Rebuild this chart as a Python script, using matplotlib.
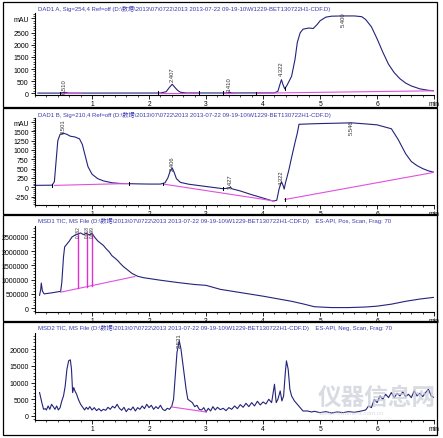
import numpy as np
import matplotlib
matplotlib.use("Agg")
from matplotlib import pyplot as plt
from matplotlib.patches import Rectangle
from matplotlib.ticker import MultipleLocator

plt.rcParams['font.family'] = ['Liberation Sans', 'Noto Sans CJK SC']

path = r"(D:\数据\2013\07\0722\2013 2013-07-22 09-19-10\W1229-BET130722H1-CDF.D)"
titles = [
    "DAD1 A, Sig=254,4 Ref=off " + path,
    "DAD1 B, Sig=210,4 Ref=off " + path,
    "MSD1 TIC, MS File " + path + "    ES-API, Pos, Scan, Frag: 70",
    "MSD2 TIC, MS File " + path + "    ES-API, Neg, Scan, Frag: 70",
]

# panel 1 : DAD1 A 254 nm
t1 = [0.05, 0.45, 0.5, 0.51, 0.55, 0.6, 2.2, 2.3, 2.36, 2.407, 2.45, 2.5, 2.55, 2.65,
      3.38, 3.41, 3.45, 4.2, 4.26, 4.3, 4.322, 4.35, 4.38, 4.42, 4.5, 4.56, 4.6, 4.65,
      4.7, 4.8, 4.88, 4.95, 5.0, 5.1, 5.2, 5.4, 5.6, 5.73, 5.8, 5.9, 6.0, 6.1, 6.2,
      6.3, 6.4, 6.5, 6.6, 6.75, 6.9, 7.0]
y1 = [5, 5, 30, 45, 20, 5, 8, 60, 250, 370, 250, 120, 40, 10,
      10, 40, 10, 15, 80, 400, 560, 350, 180, 330, 700, 1400, 2100, 2500,
      2650, 2700, 2680, 2850, 3000, 3150, 3190, 3200, 3200, 3170, 3050, 2750, 2250, 1700, 1200,
      850, 600, 420, 300, 180, 120, 100]
base1 = [([0.44, 0.8], [0, 0]), ([2.15, 2.88], [5, 5]), ([3.3, 3.5], [5, 5]),
         ([3.87, 7.0], [0, 100])]
# retention time, label centre height
peaks1 = [(0.510, 300), (2.407, 820), (3.410, 410), (4.322, 1070), (5.400, 3070)]
marks1 = [(0.44, 0), (2.15, 5), (2.88, 5), (3.3, 5), (3.87, 0), (4.38, 180)]

# panel 2 : DAD1 B 210 nm
t2 = [0.0, 0.3, 0.34, 0.37, 0.4, 0.44, 0.501, 0.56, 0.62, 0.7, 0.78, 0.83, 0.88, 0.93,
      1.0, 1.1, 1.2, 1.35, 1.5, 1.65, 1.8, 2.0, 2.2, 2.28, 2.33, 2.37, 2.406, 2.44, 2.48,
      2.55, 2.7, 3.0, 3.3, 3.41, 3.427, 3.45, 3.6, 3.8, 4.0, 4.17, 4.24, 4.28, 4.322,
      4.35, 4.37, 4.39, 4.45, 4.5, 4.56, 4.6, 4.63, 4.8, 5.0, 5.3, 5.546, 5.8, 6.0,
      6.25, 6.37, 6.5, 6.6, 6.7, 6.8, 6.9, 7.0]
y2 = [50, 55, 150, 700, 1250, 1420, 1450, 1420, 1370, 1350, 1300, 1150, 850, 550,
      350, 230, 170, 120, 100, 95, 90, 85, 85, 120, 250, 430, 520, 400, 230,
      130, 80, 20, -40, -20, 10, -40, -100, -200, -290, -370, -350, -50, 150,
      50, -50, 100, 450, 800, 1200, 1450, 1690, 1700, 1710, 1720, 1730, 1700, 1675,
      1570, 1280, 900, 690, 580, 500, 440, 400]
base2 = [([0.34, 1.65], [50, 100]), ([2.25, 4.2], [85, -370]), ([4.38, 7.0], [-330, 400])]
peaks2 = [(0.501, 1650), (2.406, 665), (3.427, 186), (4.322, 290), (5.546, 1620)]
marks2 = [(0.3, 55), (1.65, 95), (2.25, 85), (3.3, -40), (4.38, -330)]

# panel 3 : MSD1 TIC positive
t3 = [0.08, 0.1, 0.11, 0.13, 0.16, 0.3, 0.45, 0.47, 0.5, 0.52, 0.56, 0.6, 0.65, 0.7,
      0.75, 0.8, 0.85, 0.9, 0.95, 1.0, 1.05, 1.1, 1.15, 1.2, 1.25, 1.3, 1.35, 1.4,
      1.45, 1.5, 1.55, 1.6, 1.7, 1.8, 1.9, 2.0, 2.2, 2.5, 2.8, 3.0, 3.25, 3.5, 3.75,
      4.0, 4.25, 4.5, 4.7, 4.9, 5.2, 5.5, 5.8, 6.0, 6.25, 6.5, 6.75, 7.0]
y3 = [450000, 650000, 880000, 600000, 500000, 540000, 590000, 900000, 1800000, 2150000,
      2250000, 2350000, 2500000, 2560000, 2600000, 2640000, 2580000, 2630000, 2570000,
      2620000, 2480000, 2360000, 2280000, 2200000, 2080000, 1980000, 1840000, 1760000,
      1670000, 1560000, 1460000, 1380000, 1220000, 1120000, 1070000, 1040000, 980000,
      900000, 830000, 800000, 660000, 580000, 500000, 420000, 330000, 240000, 150000,
      50000, 20000, 20000, 40000, 70000, 140000, 240000, 320000, 380000]
base3 = [([0.45, 1.75], [560000, 1110000])]
cuts3 = [0.76, 0.92, 1.0]
labels3 = ["0.762", "0.918", "0.999"]

# panel 4 : MSD2 TIC negative
t4 = [0.08, 0.12, 0.15, 0.18, 0.2, 0.23, 0.26, 0.29, 0.32, 0.35, 0.38, 0.41, 0.44, 0.47,
      0.5, 0.53, 0.56, 0.59, 0.62, 0.64, 0.66, 0.68, 0.7, 0.73, 0.76, 0.8, 0.84, 0.87,
      0.9, 0.93, 0.96, 1.0, 1.04, 1.08, 1.12, 1.16, 1.2, 1.24, 1.28, 1.32, 1.36, 1.4,
      1.44, 1.48, 1.52, 1.56, 1.6, 1.64, 1.68, 1.72, 1.76, 1.8, 1.84, 1.88, 1.92, 1.96,
      2.0, 2.04, 2.08, 2.12, 2.16, 2.2, 2.24, 2.28, 2.32, 2.36, 2.4, 2.43, 2.46, 2.49,
      2.53, 2.56, 2.59, 2.62, 2.65, 2.68, 2.72, 2.76, 2.8, 2.84, 2.88, 2.92, 2.96, 3.0,
      3.04, 3.08, 3.12, 3.16, 3.2, 3.25, 3.3, 3.35, 3.4, 3.45, 3.5, 3.55, 3.6, 3.65,
      3.7, 3.75, 3.8, 3.85, 3.9, 3.95, 4.0, 4.05, 4.1, 4.15, 4.2, 4.23, 4.26, 4.3,
      4.33, 4.36, 4.39, 4.41, 4.44, 4.47, 4.5, 4.55, 4.6, 4.65, 4.7, 4.78, 4.85, 4.9,
      5.0, 5.1, 5.2, 5.3, 5.4, 5.5, 5.6, 5.7, 5.8, 5.85, 5.9, 5.95, 6.0, 6.05, 6.1,
      6.15, 6.2, 6.25, 6.3, 6.35, 6.4, 6.45, 6.5, 6.55, 6.6, 6.65, 6.7, 6.75, 6.8,
      6.85, 6.9, 6.95, 7.0]
y4 = [7000, 4000, 2000, 2200, 1800, 3000, 2000, 3500, 2800, 2000, 3000, 1800, 2500, 4500,
      6000, 9000, 14000, 16500, 16800, 14000, 7000, 8500, 7500, 6500, 5000, 3500, 2500, 1800,
      2600, 2000, 2800, 1800, 2500, 1600, 2200, 1500, 2000, 1700, 2600, 2000, 2900, 2400,
      3500, 2300, 1700, 2600, 1300, 2200, 1800, 2700, 1500, 2500, 2000, 3000, 2200, 3500,
      2500, 3200, 2000, 2800, 2200, 3200, 2000, 1600, 2300, 2000, 3000, 5000, 12000, 19000,
      22500, 20000, 16000, 12000, 8000, 5000, 4500, 4000, 2800, 3200, 2000, 1800, 2500, 1200,
      2300, 1500, 2800, 1800, 2600, 1900, 2300, 1600, 2500, 2000, 3000, 2200, 3400, 2600,
      3800, 2800, 4000, 3000, 4400, 3300, 4200, 3600, 5000, 4000, 9500, 4000, 5000, 7500,
      4500, 6000, 13000, 16500, 14000, 8000, 6000, 4500, 3500, 2500, 1500, 1500, 1200, 1400,
      1000, 1300, 900, 1200, 1000, 1300, 1100, 1400, 1800, 3000, 2500, 5000, 4000, 6000, 5000,
      6500, 5500, 7000, 5500, 6800, 6000, 7200, 5800, 6500, 5500, 7500, 6000, 6800, 5800,
      7000, 8000, 6000, 5500]
base4 = [([2.4, 3.0], [2700, 1200])]
peaks4 = [(2.531, 22800)]

# axes layout (figure fractions) and y scaling per panel
ax_rect = [
    [0.079, 0.781, 0.901, 0.187],
    [0.079, 0.5305, 0.901, 0.1985],
    [0.079, 0.2867, 0.901, 0.196],
    [0.079, 0.041, 0.901, 0.198],
]
ylims = [(-80, 3320), (-480, 1860), (-140000, 2880000), (-1200, 24800)]
yticks = [[0, 500, 1000, 1500, 2000, 2500, 3100],
          [-250, 0, 250, 500, 750, 1000, 1250, 1500, 1750],
          [0, 500000, 1000000, 1500000, 2000000, 2500000],
          [0, 5000, 10000, 15000, 20000]]
ytlabels = [["0", "500", "1000", "1500", "2000", "2500", "mAU"],
            ["-250", "0", "250", "500", "750", "1000", "1250", "1500", "mAU"],
            ["0", "500000", "1000000", "1500000", "2000000", "2500000"],
            ["0", "5000", "10000", "15000", "20000"]]
yminor = [100, 50, 100000, 1000]
frames = [(3, 108), (109, 215), (216, 322), (323, 436)]

W, H = 443, 439
fig = plt.figure(figsize=(W / 100, H / 100), dpi=100)

line_col = '#23237a'
base_col = '#e050e0'
title_col = '#3a3ab0'

for y0, y1f in frames:
    fig.patches.append(Rectangle((3 / W, 1 - y1f / H), 434 / W, (y1f - y0) / H,
                                 transform=fig.transFigure, fill=False,
                                 edgecolor='black', lw=0.9))

data = [(t1, y1), (t2, y2), (t3, y3), (t4, y4)]
axes = []
for i, (tt, yy) in enumerate(data):
    ax = fig.add_axes(ax_rect[i])
    axes.append(ax)
    ax.plot(tt, yy, color=line_col, lw=0.8)
    ax.set_xlim(0, 7)
    ax.set_ylim(*ylims[i])
    ax.set_xticks([1, 2, 3, 4, 5, 6, 7])
    ax.set_xticklabels(['1', '2', '3', '4', '5', '6', 'min'])
    ax.xaxis.set_minor_locator(MultipleLocator(0.2))
    ax.set_yticks(yticks[i])
    ax.set_yticklabels(ytlabels[i])
    ax.yaxis.set_minor_locator(MultipleLocator(yminor[i]))
    for s in ['top', 'right']:
        ax.spines[s].set_visible(False)
    for s in ['left', 'bottom']:
        ax.spines[s].set_linewidth(0.8)
    ax.tick_params(which='major', direction='out', length=3, width=0.6,
                   labelsize=5, pad=1.5)
    ax.tick_params(axis='x', which='major', labelsize=4.8, pad=0.6)
    ax.tick_params(which='minor', direction='out', length=1.5, width=0.5)
    ax.patch.set_alpha(0)
    fig.text(38 / W, 1 - (frames[i][0] + 5.5) / H, titles[i], fontsize=4.3,
             color=title_col, va='center', ha='left')

# baselines, integration marks and peak labels
for ax, bases in zip(axes, [base1, base2, base3, base4]):
    for bx, by in bases:
        ax.plot(bx, by, color=base_col, lw=0.8)

for ax, marks in zip(axes[:2], [marks1, marks2]):
    for mx, my in marks:
        ax.plot([mx, mx], [my - ax.get_ylim()[1] * 0.02, my + ax.get_ylim()[1] * 0.02],
                color='black', lw=0.7)

for ax, peaks in [(axes[0], peaks1), (axes[1], peaks2), (axes[3], peaks4)]:
    for px, py in peaks:
        ax.text(px, py, "%.3f" % px, rotation=90, fontsize=4.2,
                ha='center', va='center', color='#333333')

bt, by3 = base3[0]
for cx, lab in zip(cuts3, labels3):
    yb = np.interp(cx, bt, by3)
    yc = np.interp(cx, t3, y3)
    axes[2].plot([cx, cx], [yb, yc], color='#e030d0', lw=1.0)
    axes[2].text(cx, 2720000, lab, rotation=90, fontsize=3.4,
                 ha='center', va='center', color='#333333')

# watermark
fig.text(318 / W, 1 - 398 / H, "仪器信息网", fontsize=17, color='#c8ccd6',
         alpha=0.7, ha='left', va='center', fontweight='bold')
fig.text(318 / W, 1 - 414 / H, "www.instrument.com.cn", fontsize=4.5, color='#c8ccd6',
         alpha=0.7, ha='left', va='center')

fig.savefig("out.png", dpi=100)
